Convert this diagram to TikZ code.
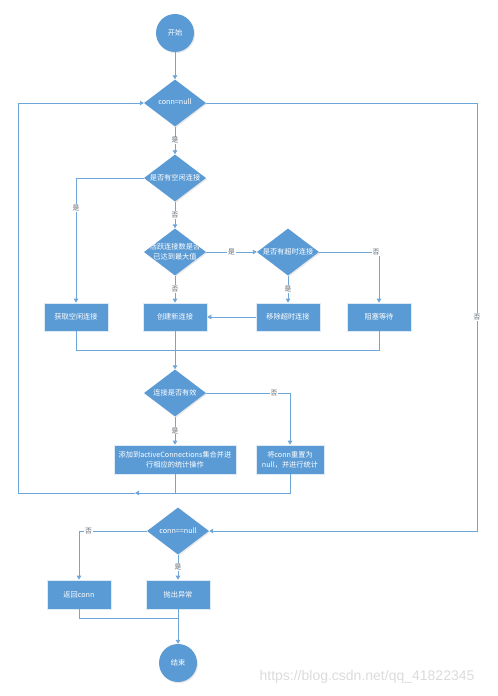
\documentclass[tikz,border=0pt]{standalone}
\usepackage{fontspec}
\setmainfont{Noto Sans CJK SC}
\newfontfamily\wmfont{Liberation Sans}
\usetikzlibrary{shapes.geometric,arrows.meta,shadows,calc}
\definecolor{flowblue}{HTML}{5B9BD5}
\definecolor{linkblue}{HTML}{6FA6DA}
\definecolor{lblgray}{HTML}{5A6470}
\newcommand{\zwtext}[1]{\makebox[0pt]{\begin{tabular}{@{}c@{}}#1\end{tabular}}}
\begin{document}
\begin{tikzpicture}[x=1bp,y=-1bp,
  every node/.style={font=\fontsize{7.2bp}{10bp}\selectfont},
  shadowed/.style={drop shadow={opacity=0.18,shadow xshift=1bp,shadow yshift=-1.2bp}},
  terminal/.style={circle,fill=flowblue,text=white,minimum size=38bp,inner sep=0pt,shadowed},
  decision/.style={diamond,fill=flowblue,text=white,minimum width=62bp,minimum height=47bp,inner sep=0pt,shadowed},
  process/.style={rectangle,fill=flowblue,draw=white!80!flowblue,line width=0.6bp,text=white,minimum width=64bp,minimum height=28bp,inner sep=1bp,align=center,shadowed},
  link/.style={draw=linkblue,line width=0.9bp},
  arr/.style={link,-{Triangle[length=4bp,width=4.5bp]}},
  lbl/.style={fill=white,text=lblgray,inner sep=0.8bp,font=\fontsize{6.8bp}{8bp}\selectfont}
]
\useasboundingbox (0,0) rectangle (498,696);

% nodes
\node[terminal] (start) at (175,33) {开始};
\node[decision] (d1) at (175,103) {\zwtext{conn=null}};
\node[decision] (d2) at (175,178) {\zwtext{是否有空闲连接}};
\node[decision] (d3) at (175,252) {\zwtext{活跃连接数是否\\已达到最大值}};
\node[decision] (d4) at (288,252) {\zwtext{是否有超时连接}};
\node[process] (b1) at (76,317) {获取空闲连接};
\node[process] (b2) at (175,317) {创建新连接};
\node[process] (b3) at (288,317) {移除超时连接};
\node[process] (b4) at (379,317) {阻塞等待};
\node[decision] (d5) at (175,393) {\zwtext{连接是否有效}};
\node[process,minimum width=122bp,minimum height=29bp] (b5) at (175,459.5) {添加到activeConnections集合并进\\行相应的统计操作};
\node[process,minimum width=68bp,minimum height=29bp] (b6) at (290,459.5) {将conn重置为\\null，并进行统计};
\node[decision] (d6) at (178,531) {\zwtext{conn==null}};
\node[process,minimum height=29bp] (b7) at (79,594.5) {返回conn};
\node[process,minimum height=29bp] (b8) at (178,594.5) {抛出异常};
\node[terminal] (end) at (178,663) {结束};

% helper coordinates
\coordinate (m1) at (175,350);
\coordinate (lb) at (18,493);
\coordinate (la) at (135,493);
\coordinate (rt) at (477,103);
\coordinate (m2) at (178,618);

% connectors
\draw[arr] (start) -- (d1);
\draw[arr] (d1) -- node[lbl,pos=0.5]{是} (d2);
\draw[arr] (d2.west) -| node[lbl,pos=0.62]{是} (b1.north);
\draw[arr] (d2) -- node[lbl,pos=0.5]{否} (d3);
\draw[arr] (d3.east) -- node[lbl,pos=0.5]{是} (d4.west);
\draw[arr] (d4.east) -| node[lbl,pos=0.475]{否} (b4.north);
\draw[arr] (d3.south) -- node[lbl,pos=0.5]{否} (b2.north);
\draw[arr] (d4.south) -- node[lbl,pos=0.5]{是} (b3.north);
\draw[arr] (b3.west) -- (b2.east);
\draw[link] (b1.south) |- (m1);
\draw[link] (b4.south) |- (m1);
\draw[arr] (b2.south) -- (d5.north);
\draw[arr] (d5.south) -- node[lbl,pos=0.5]{是} (b5.north);
\draw[arr] (d5.east) -| node[lbl,pos=0.405]{否} (b6.north);
\draw[link] (b5.south) -- (b5.south |- lb);
\draw[arr] (b6.south) |- (la);
\draw[arr] (la) -- (lb) |- (d1.west);
\draw[arr] (d1.east) -- (rt) |- node[lbl,pos=0.25]{否} (d6.east);
\draw[arr] (d6.west) -| node[lbl,pos=0.43]{否} (b7.north);
\draw[arr] (d6.south) -- node[lbl,pos=0.5]{是} (b8.north);
\draw[link] (b7.south) |- (m2);
\draw[arr] (b8.south) -- (end.north);

% watermark
\node[text=gray!28,font=\wmfont\fontsize{14bp}{16bp}\selectfont] (wm) at (367,677) {https://blog.csdn.net/qq\_41822345};
\end{tikzpicture}
\end{document}
